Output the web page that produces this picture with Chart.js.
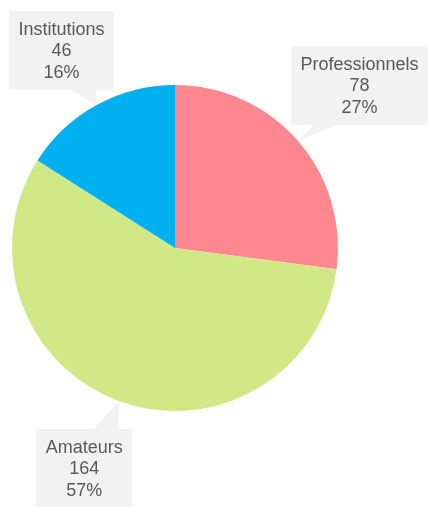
<!DOCTYPE html>
<html>
<head>
<meta charset="utf-8">
<script src="https://cdn.jsdelivr.net/npm/chart.js@4"></script>
<style>
  html, body { margin: 0; padding: 0; background: #fff; }
  #wrap { width: 429px; height: 507px; }
</style>
</head>
<body>
<div id="wrap"><canvas id="Chart" width="429" height="507"></canvas></div>
<script>
var categories = ['Professionnels', 'Amateurs', 'Institutions'];
var counts = [78, 164, 46];
var percents = ['27%', '57%', '16%'];
var colors = ['#FF878F', '#D0E986', '#00B0F0'];

// callout boxes: offset of box centre from the slice tip, and the pointer base (relative to box centre)
var callouts = [
  { dx: 62, dy: -55, base: [-45, -20], side: 'bottom' },
  { dx: -35, dy: 67, base: [9, 34], side: 'top' },
  { dx: -35, dy: -55, base: [7, 34], side: 'bottom' }
];

var calloutPlugin = {
  id: 'callouts',
  afterDatasetsDraw: function(chart) {
    var ctx = chart.ctx;
    var meta = chart.getDatasetMeta(0);
    ctx.save();
    ctx.font = '18px "Liberation Sans", Arial, sans-serif';
    meta.data.forEach(function(arc, i) {
      var mid = (arc.startAngle + arc.endAngle) / 2;
      var tx = arc.x + Math.cos(mid) * arc.outerRadius;
      var ty = arc.y + Math.sin(mid) * arc.outerRadius;
      var c = callouts[i];
      var lines = [categories[i], String(counts[i]), percents[i]];
      var w = 0;
      lines.forEach(function(l) { w = Math.max(w, ctx.measureText(l).width); });
      var lineH = 21.5;
      var bw = w + 19, bh = lines.length * lineH + 14;
      var cx = tx + c.dx, cy = ty + c.dy;
      var left = cx - bw / 2, top = cy - bh / 2;

      ctx.fillStyle = '#F2F2F2';
      ctx.fillRect(left, top, bw, bh);
      var by = c.side === 'bottom' ? top + bh - 0.5 : top + 0.5;
      ctx.beginPath();
      ctx.moveTo(cx + c.base[0], by);
      ctx.lineTo(cx + c.base[1], by);
      ctx.lineTo(tx, ty);
      ctx.closePath();
      ctx.fill();

      ctx.fillStyle = '#595959';
      ctx.textAlign = 'center';
      ctx.textBaseline = 'middle';
      lines.forEach(function(l, k) {
        ctx.fillText(l, cx, top + 7 + lineH / 2 + k * lineH + 1);
      });
    });
    ctx.restore();
  }
};

const ctx = document.getElementById('Chart').getContext('2d');
const Charts = new Chart(ctx, {
  type: 'pie',
  data: {
    labels: categories,
    datasets: [{
      data: counts,
      backgroundColor: colors,
      borderWidth: 0
    }]
  },
  options: {
    responsive: false,
    animation: false,
    layout: { padding: { left: 12, right: 91, top: 85, bottom: 96 } },
    plugins: {
      legend: { display: false },
      tooltip: { enabled: false }
    }
  },
  plugins: [calloutPlugin]
});
</script>
</body>
</html>
